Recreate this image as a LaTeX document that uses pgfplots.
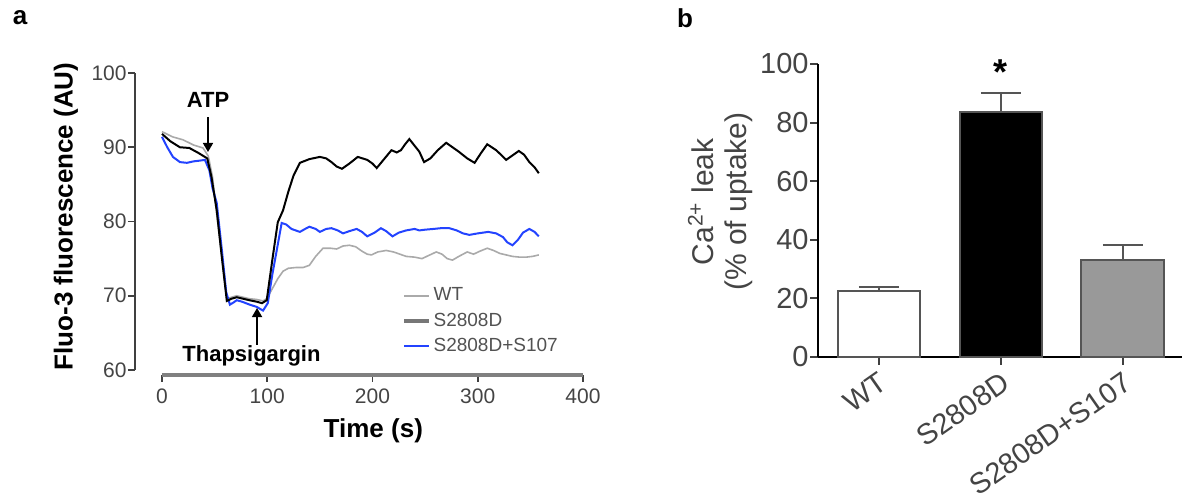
\documentclass[border=0pt]{standalone}
\usepackage{fontspec}
\setmainfont{Liberation Sans}
\usepackage{pgfplots}
\pgfplotsset{compat=1.18}
\usetikzlibrary{arrows.meta}
\definecolor{wtgray}{HTML}{AAAAAA}
\definecolor{bluel}{HTML}{2343FF}
\definecolor{tickgray}{HTML}{444444}
\definecolor{axgray}{HTML}{404040}
\definecolor{xaxgray}{HTML}{808080}
\definecolor{barout}{HTML}{555555}
\definecolor{bargray}{HTML}{999999}
\definecolor{leggray}{HTML}{777777}
\begin{document}
\begin{tikzpicture}
\path[use as bounding box] (0,0) rectangle (592.5pt,250.5pt);
\node[font=\fontsize{13}{13}\selectfont\bfseries] at (10pt,241.5pt) {a};
\node[font=\fontsize{13}{13}\selectfont\bfseries] at (342.5pt,241.5pt) {b};
% ---------------- panel a ----------------
\begin{axis}[
  at={(67.5pt,63pt)}, anchor=south west, scale only axis,
  width=224pt, height=151pt,
  xmin=-25.65, xmax=400, ymin=59.33, ymax=100,
  axis lines=left, axis line style={draw=none},
  xtick={0,100,200,300,400}, ytick={60,70,80,90,100},
  tick align=outside, major tick length=3.5pt,
  tick style={axgray, line width=0.8pt},
  clip=false,
  /pgf/number format/assume math mode=true,
  tick label style={font=\fontsize{10.5}{12.5}\selectfont, text=tickgray},
  yticklabel style={inner xsep=0.5pt},
  xlabel={Time (s)}, ylabel={Fluo-3 fluorescence (AU)},
  xlabel style={font=\fontsize{13}{15}\selectfont\bfseries, at={(axis description cs:0.532,-0.185)}, anchor=center},
  ylabel style={font=\fontsize{13}{15}\selectfont\bfseries, at={(axis description cs:-0.154,0.525)}, anchor=center},
  legend style={at={(axis description cs:0.596,0.30)}, anchor=north west, draw=none, fill=none,
    inner sep=0pt, font=\fontsize{9.5}{11}\selectfont, text=black!68, row sep=1.5pt,
    nodes={inner sep=1.5pt}},
  legend cell align=left,
  legend image code/.code={\draw[#1] (0pt,0pt) -- (12.5pt,0pt);},
]
\addlegendimage{wtgray, line width=0.7pt}
\addlegendentry{WT}
\addlegendimage{leggray, line width=1.6pt}
\addlegendentry{S2808D}
\addlegendimage{bluel, line width=1pt}
\addlegendentry{S2808D+S107}
% axis lines (offset, Prism style)
\draw[xaxgray, line width=1.6pt] (axis cs:0,59.33) -- (axis cs:400,59.33);
\draw[axgray, line width=0.9pt] (axis cs:-25.65,60) -- (axis cs:-25.65,100);
% WT
\addplot[wtgray, line width=0.8pt, forget plot] coordinates {
(0,92.1) (10,91.4) (20,91.0) (30,90.3) (39,89.9) (44,88.8) (48,86) (52,81) (57,75)
(61.6,69.6) (66,69.8) (71,70.0) (77,69.8) (83,69.6) (90,69.5) (96,69.3) (99.5,69.6)
(105,71.0) (110,72.3) (115,73.3) (120,73.7) (127,73.8) (134,73.8) (140,74.1) (146,75.3)
(153,76.4) (160,76.4) (166,76.3) (172,76.7) (178,76.8) (184,76.6) (190,76.0) (195,75.6)
(199,75.5) (205,75.9) (213,76.1) (220,75.9) (226,75.6) (232,75.3) (240,75.2) (247,75.0)
(253,75.4) (260.6,75.9) (266,75.6) (271,75.0) (276,74.8) (282,75.3) (290,75.9) (296,75.6)
(302,76.0) (309,76.4) (315,76.1) (321,75.7) (327,75.5) (333,75.3) (340,75.2) (346,75.2)
(352,75.3) (358,75.5)};
% S2808D+S107
\addplot[bluel, line width=1pt, forget plot] coordinates {
(0,91.4) (5,90.0) (10.4,88.7) (17,88.0) (23.7,87.9) (30,88.1) (36,88.2) (40.8,88.3)
(45,86.9) (48,84.5) (52,82.5) (57,76) (61,70.5) (64.5,68.8) (68,69.1) (71,69.4) (76,69.2)
(83.4,68.8) (90,68.5) (96,68.0) (100.5,69.0) (105,73) (109,76.1) (113.7,79.8) (118,79.6)
(123,79.0) (131,78.6) (136,79.0) (140,79.3) (146,79.0) (150,78.6) (156,79.0) (161,79.1)
(167,78.8) (172,78.4) (178,78.7) (185,79.0) (190,78.6) (195,78.0) (202,78.5) (208,79.1)
(213,78.7) (219,78.0) (225,78.5) (232,78.8) (240,79.0) (244.5,78.8) (250,78.9) (258,79.0)
(265,79.1) (273,79.1) (280,78.8) (286,78.4) (292,78.2) (300,78.4) (310,78.6) (317.5,78.4)
(324,77.9) (328,77.2) (333,76.8) (338,77.5) (343,78.5) (349,79.0) (354,78.6) (358,78.0)};
% S2808D
\addplot[black, line width=1pt, forget plot] coordinates {
(0,91.8) (8,90.8) (17,90.0) (26,89.9) (35,89.2) (43,88.5) (47,86) (52,81.5) (57,75)
(61.6,69.3) (66,69.6) (71,69.8) (77,69.6) (83,69.4) (90,69.2) (95,69.0) (99.5,69.4)
(105,75) (110,79.9) (115,81.5) (120,84) (125,86.2) (131,87.9) (140,88.4) (150,88.7)
(156,88.5) (161,88.0) (166,87.4) (171,87.1) (178,87.8) (186,88.7) (195,88.3) (200,87.8)
(204,87.2) (211,88.4) (218,89.6) (223,89.3) (227,89.6) (231,90.4) (235,91.1) (240,90.2)
(244.5,89.4) (249,88.0) (255,88.5) (262,89.6) (270,90.6) (276,90.0) (282,89.4) (290,88.5)
(297,87.9) (303,89.2) (309,90.4) (317.5,89.6) (322,89.0) (327,88.3) (333,88.9) (339,89.5)
(344,89.0) (349,88.0) (354,87.3) (358,86.5)};
% annotations
\node[font=\fontsize{11}{13}\selectfont\bfseries, anchor=base] at (axis cs:43.7,95.29) {ATP};
\draw[-{Triangle[length=4.5pt,width=5pt]}, line width=0.8pt] (axis cs:43.7,94.07) -- (axis cs:43.7,89.36);
\node[font=\fontsize{11}{13}\selectfont\bfseries, anchor=base] at (axis cs:85.0,61.08) {Thapsigargin};
\draw[-{Triangle[length=4.5pt,width=5pt]}, line width=0.8pt] (axis cs:90.3,63.37) -- (axis cs:90.3,68.35);
\end{axis}
% ---------------- panel b ----------------
\begin{axis}[
  at={(409pt,72pt)}, anchor=south west, scale only axis,
  width=182pt, height=146.5pt,
  xmin=-0.5, xmax=2.484, ymin=0, ymax=100,
  axis lines=left, axis line style={-, black, line width=1pt},
  ybar, bar width=0.68,
  xtick={0,1,2}, xticklabels={WT,S2808D,S2808D+S107},
  ytick={0,20,40,60,80,100},
  tick align=outside, major tick length=4pt,
  tick style={black!75, line width=1pt},
  /pgf/number format/assume math mode=true,
  tick label style={font=\fontsize{14.5}{17}\selectfont, text=tickgray},
  xticklabel style={rotate=35, anchor=north east, inner sep=2pt},
  yticklabel style={inner xsep=0.5pt},
  ylabel={Ca\textsuperscript{2+} leak\\(\% of uptake)},
  ylabel style={align=center, font=\fontsize{15}{16.5}\selectfont, text=tickgray,
    at={(axis description cs:-0.269,0.53)}, anchor=center},
  clip=false,
  error bars/y dir=plus, error bars/y explicit,
  error bars/error bar style={barout, line width=1pt},
  error bars/error mark options={rotate=90, mark size=10pt, line width=1pt, barout},
]
\addplot[fill=white, draw=barout, line width=1pt, bar shift=0pt] coordinates {(0,22.4) +- (0,1.6)};
\addplot[fill=black, draw=barout, line width=1pt, bar shift=0pt] coordinates {(1,83.7) +- (0,6.5)};
\addplot[fill=bargray, draw=barout, line width=1pt, bar shift=0pt] coordinates {(2,33.0) +- (0,5.1)};
\node[font=\fontsize{18}{18}\selectfont\bfseries, anchor=north, inner sep=0pt] at (axis cs:1,101.7) {*};
\end{axis}
\end{tikzpicture}
\end{document}
